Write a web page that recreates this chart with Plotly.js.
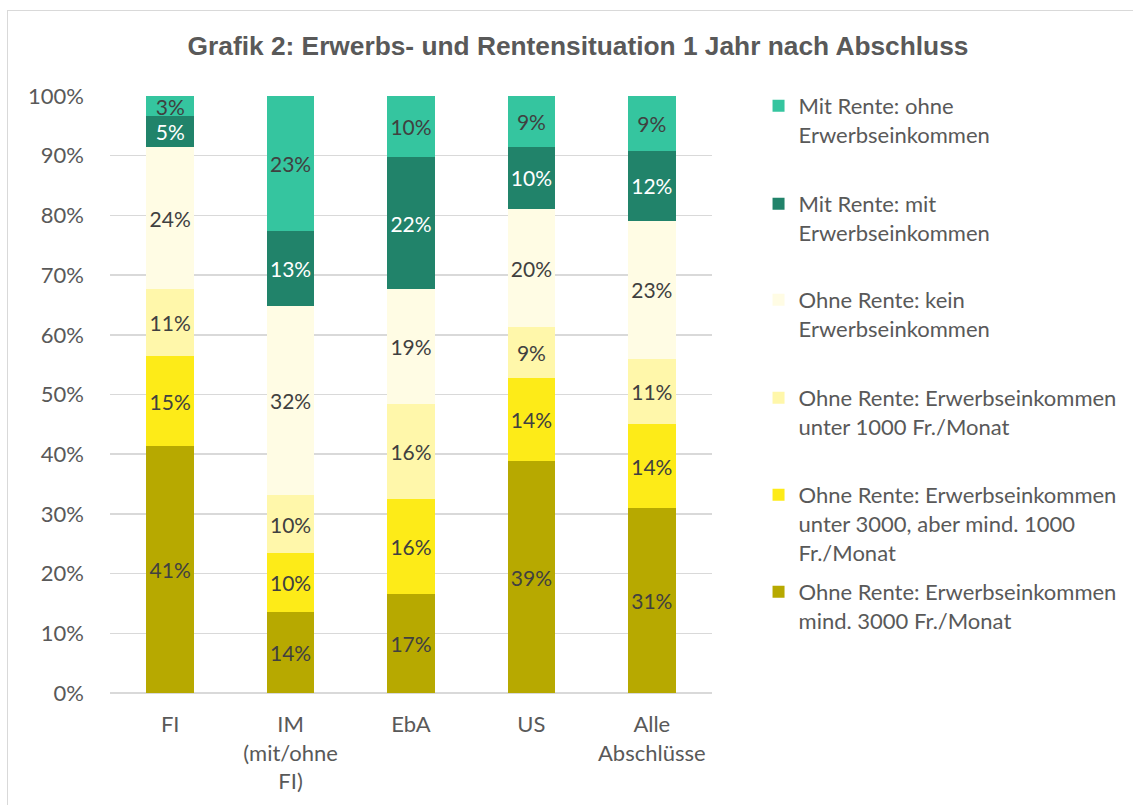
<!DOCTYPE html>
<html>
<head>
<meta charset="utf-8">
<script src="https://cdn.plot.ly/plotly-3.0.1.min.js"></script>
<style>
  html, body { margin: 0; padding: 0; background: #ffffff; }
  #frame { position: absolute; left: 7px; top: 10px; width: 1140px; height: 800px; border: 1px solid #d9d9d9; box-sizing: border-box; }
  #chart { position: absolute; left: 0; top: 0; width: 1133px; height: 805px; }
</style>
</head>
<body>
<div id="frame"></div>
<div id="chart"></div>
<script>
// Categories (x axis)
const categories = ["FI", "IM<br>(mit/ohne<br>FI)", "EbA", "US", "Alle<br>Abschlüsse"];

// Series names (bottom to top of stack)
const seriesNames = [
  "Ohne Rente: Erwerbseinkommen<br>mind. 3000 Fr./Monat",
  "Ohne Rente: Erwerbseinkommen<br>unter 3000, aber mind. 1000<br>Fr./Monat",
  "Ohne Rente: Erwerbseinkommen<br>unter 1000 Fr./Monat",
  "Ohne Rente: kein<br>Erwerbseinkommen",
  "Mit Rente: mit<br>Erwerbseinkommen",
  "Mit Rente: ohne<br>Erwerbseinkommen"
];

// Series values (% per category)
const ohneMind3000     = [41.32, 13.6, 16.6, 38.86, 30.94];
const ohne1000bis3000  = [15.08,  9.9, 15.9, 13.90, 14.07];
const ohneUnter1000    = [11.22,  9.6, 15.9,  8.54, 11.00];
const ohneKein         = [23.84, 31.7, 19.2, 19.77, 23.12];
const mitRenteMit      = [ 5.19, 12.6, 22.2, 10.39, 11.73];
const mitRenteOhne     = [ 3.35, 22.6, 10.2,  8.54,  9.14];

// Y tick labels
const yTickVals = [0, 10, 20, 30, 40, 50, 60, 70, 80, 90, 100];
const yTickText = ["0%", "10%", "20%", "30%", "40%", "50%", "60%", "70%", "80%", "90%", "100%"];

const seriesValues = [ohneMind3000, ohne1000bis3000, ohneUnter1000, ohneKein, mitRenteMit, mitRenteOhne];
const seriesColors = ["#b7a900", "#fdeb18", "#fff7aa", "#fffce4", "#21836a", "#35c59f"];
const labelColors  = ["#404040", "#404040", "#404040", "#404040", "#ffffff", "#404040"];

const FONT = "Lato, 'Open Sans', sans-serif";

// Plot area geometry (pixels)
const W = 1133, H = 805;
const M = { l: 110, r: 415, t: 96, b: 112 };
const plotH = H - M.t - M.b, plotW = W - M.l - M.r;
const legendFirstLinePx = [593, 496, 399, 301, 205, 107];
const legendLeftPx = 765;

const legendKeys = ["legend6", "legend5", "legend4", "legend3", "legend2", "legend"];

const traces = seriesValues.map((vals, i) => ({
  type: "bar",
  name: seriesNames[i],
  x: categories,
  y: vals,
  marker: { color: seriesColors[i], line: { width: 0 } },
  texttemplate: "%{y:.0f}%",
  textposition: "inside",
  insidetextanchor: "middle",
  textangle: 0,
  constraintext: "none",
  textfont: { family: FONT, size: 21, color: labelColors[i] },
  legend: legendKeys[i],
  hoverinfo: "skip"
}));

const layout = {
  width: W,
  height: H,
  paper_bgcolor: "rgba(0,0,0,0)",
  plot_bgcolor: "rgba(0,0,0,0)",
  margin: M,
  barmode: "stack",
  bargap: 0.605,
  title: {
    text: "<b>Grafik 2: Erwerbs- und Rentensituation 1 Jahr nach Abschluss</b>",
    font: { family: "'Liberation Sans', Arial, sans-serif", size: 26.3, color: "#595959" },
    xref: "container", x: 578 / W, xanchor: "center",
    yref: "container", y: 1 - 46 / H, yanchor: "middle"
  },
  xaxis: {
    type: "category",
    tickfont: { family: FONT, size: 22, color: "#595959" },
    showgrid: false,
    showline: false,
    ticks: "",
    ticklabelstandoff: 16
  },
  yaxis: {
    range: [0, 100],
    tickvals: yTickVals,
    ticktext: yTickText,
    tickfont: { family: FONT, size: 22, color: "#595959" },
    showgrid: true,
    gridcolor: "#d9d9d9",
    gridwidth: 1.5,
    zeroline: true,
    zerolinecolor: "#d9d9d9",
    zerolinewidth: 1.5,
    showline: false,
    ticks: "",
    ticklabelstandoff: 25
  },
  showlegend: true
};

legendKeys.forEach((key, i) => {
  layout[key] = {
    x: (legendLeftPx - M.l) / plotW, xanchor: "left",
    y: (H - M.b - (legendFirstLinePx[i] - 22)) / plotH, yanchor: "top",
    valign: "top",
    font: { family: FONT, size: 22, color: "#595959" },
    bgcolor: "rgba(0,0,0,0)"
  };
});

Plotly.newPlot("chart", traces, layout, { displayModeBar: false, staticPlot: true });
</script>
</body>
</html>
